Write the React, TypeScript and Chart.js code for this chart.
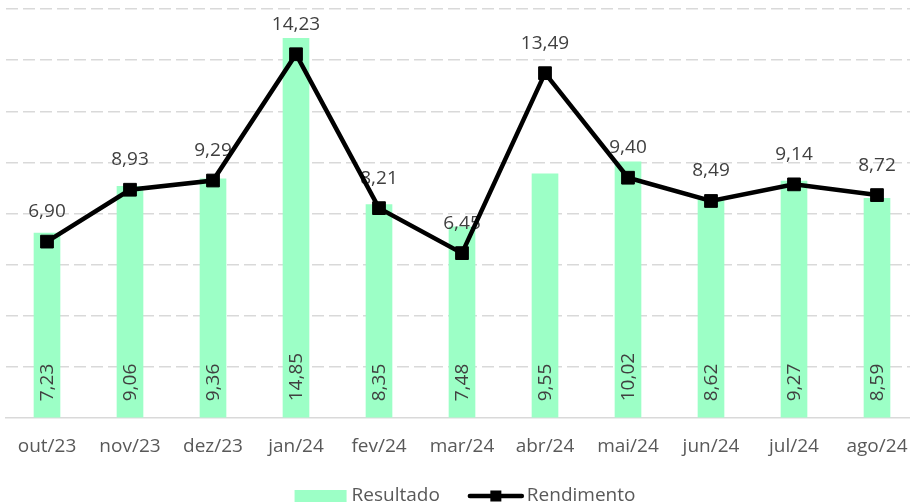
import React, { useEffect, useRef } from "react";
import { Chart, registerables } from "chart.js";

Chart.register(...registerables);

const categories = ["out/23", "nov/23", "dez/23", "jan/24", "fev/24", "mar/24", "abr/24", "mai/24", "jun/24", "jul/24", "ago/24"];
const resultado = [7.23, 9.06, 9.36, 14.85, 8.35, 7.48, 9.55, 10.02, 8.62, 9.27, 8.59];
const rendimento = [6.9, 8.93, 9.29, 14.23, 8.21, 6.45, 13.49, 9.4, 8.49, 9.14, 8.72];
const seriesNames = ["Resultado", "Rendimento"];

const BAR_COLOR = "#9CFFC6";
const TEXT = "#595959";
const LABEL = "#404040";
const FONT = "Open Sans";
const FS = 19;

const fmt = (v: number) => v.toFixed(2).replace(".", ",");

const labelsPlugin = {
  id: "labelsPlugin",
  afterDatasetDraw(chart: any, args: any) {
    if (args.index !== 0) return;
    const ctx = chart.ctx;
    const barMeta = chart.getDatasetMeta(0);
    const lineMeta = chart.getDatasetMeta(1);
    ctx.save();
    ctx.font = `${FS}px "${FONT}"`;
    ctx.fillStyle = LABEL;
    barMeta.data.forEach((el: any, i: number) => {
      ctx.save();
      ctx.translate(el.x, el.base - 16);
      ctx.rotate(-Math.PI / 2);
      ctx.textAlign = "left";
      ctx.textBaseline = "middle";
      ctx.fillText(fmt(resultado[i]), 0, 1);
      ctx.restore();
    });
    lineMeta.data.forEach((el: any, i: number) => {
      ctx.textAlign = "center";
      ctx.textBaseline = "middle";
      ctx.fillText(fmt(rendimento[i]), el.x, el.y - 30);
    });
    ctx.restore();
  },
};

const legendPlugin = {
  id: "customLegend",
  afterDraw(chart: any) {
    const ctx = chart.ctx;
    ctx.save();
    ctx.font = `${FS}px "${FONT}"`;
    const w1 = ctx.measureText(seriesNames[0]).width;
    const w2 = ctx.measureText(seriesNames[1]).width;
    const boxW = 52, symW = 56, gap1 = 5, gap2 = 3, spacing = 28;
    const total = boxW + gap1 + w1 + spacing + symW + gap2 + w2;
    const cx = (chart.chartArea.left + chart.chartArea.right) / 2 + 3;
    let x = cx - total / 2;
    const y = 496;
    ctx.fillStyle = BAR_COLOR;
    ctx.fillRect(x, y - 6, boxW, 12);
    x += boxW + gap1;
    ctx.fillStyle = TEXT;
    ctx.textAlign = "left";
    ctx.textBaseline = "middle";
    ctx.fillText(seriesNames[0], x, y);
    x += w1 + spacing;
    ctx.strokeStyle = "#000";
    ctx.lineWidth = 4.5;
    ctx.lineCap = "round";
    ctx.beginPath();
    ctx.moveTo(x + 2, y);
    ctx.lineTo(x + symW - 2, y);
    ctx.stroke();
    ctx.fillStyle = "#000";
    ctx.fillRect(x + symW / 2 - 5.5, y - 5.5, 11, 11);
    x += symW + gap2;
    ctx.fillStyle = TEXT;
    ctx.fillText(seriesNames[1], x, y);
    ctx.restore();
  },
};

export default function App() {
  const ref = useRef<HTMLCanvasElement | null>(null);
  useEffect(() => {
    if (!ref.current) return;
    const chart = new Chart(ref.current, {
      type: "bar",
      data: {
        labels: categories,
        datasets: [
          {
            type: "bar",
            label: seriesNames[0],
            data: resultado,
            backgroundColor: BAR_COLOR,
            barThickness: 26,
            order: 2,
          },
          {
            type: "line",
            label: seriesNames[1],
            data: rendimento,
            borderColor: "#000",
            backgroundColor: "#000",
            borderWidth: 4.5,
            pointStyle: "rect",
            pointRadius: 9,
            pointBorderWidth: 1,
            pointBackgroundColor: "#000",
            pointBorderColor: "#000",
            tension: 0,
            order: 1,
            clip: false,
          } as any,
        ],
      },
      options: {
        animation: false,
        responsive: false,
        devicePixelRatio: 1,
        layout: { autoPadding: false, padding: { left: 5.5, right: 5.5, top: 9, bottom: 0 } },
        plugins: {
          legend: { display: false },
          tooltip: { enabled: false },
        },
        scales: {
          x: {
            grid: { display: false, drawTicks: false },
            border: { display: true, color: "#D9D9D9", width: 1.5 },
            ticks: { color: TEXT, font: { family: FONT, size: FS }, padding: 17, maxRotation: 0, autoSkip: false },
            afterFit: (s: any) => {
              s.height = 86;
              s.paddingLeft = 0;
              s.paddingRight = 0;
            },
          },
          y: {
            min: 0,
            max: 16,
            ticks: { display: false, stepSize: 2 },
            grid: {
              drawTicks: false,
              color: (c: any) => (c.tick && c.tick.value === 0 ? "rgba(0,0,0,0)" : "#D9D9D9"),
              lineWidth: 1.5,
            },
            border: { display: false, dash: [12, 5] },
            afterFit: (s: any) => {
              s.width = 0;
            },
          },
        },
      },
      plugins: [labelsPlugin, legendPlugin],
    } as any);
    return () => chart.destroy();
  }, []);
  return (
    <div style={{ position: "fixed", left: 0, top: 0, width: 924, height: 504, background: "#fff" }}>
      <canvas ref={ref} width={924} height={504} style={{ display: "block", width: 924, height: 504 }} />
    </div>
  );
}
